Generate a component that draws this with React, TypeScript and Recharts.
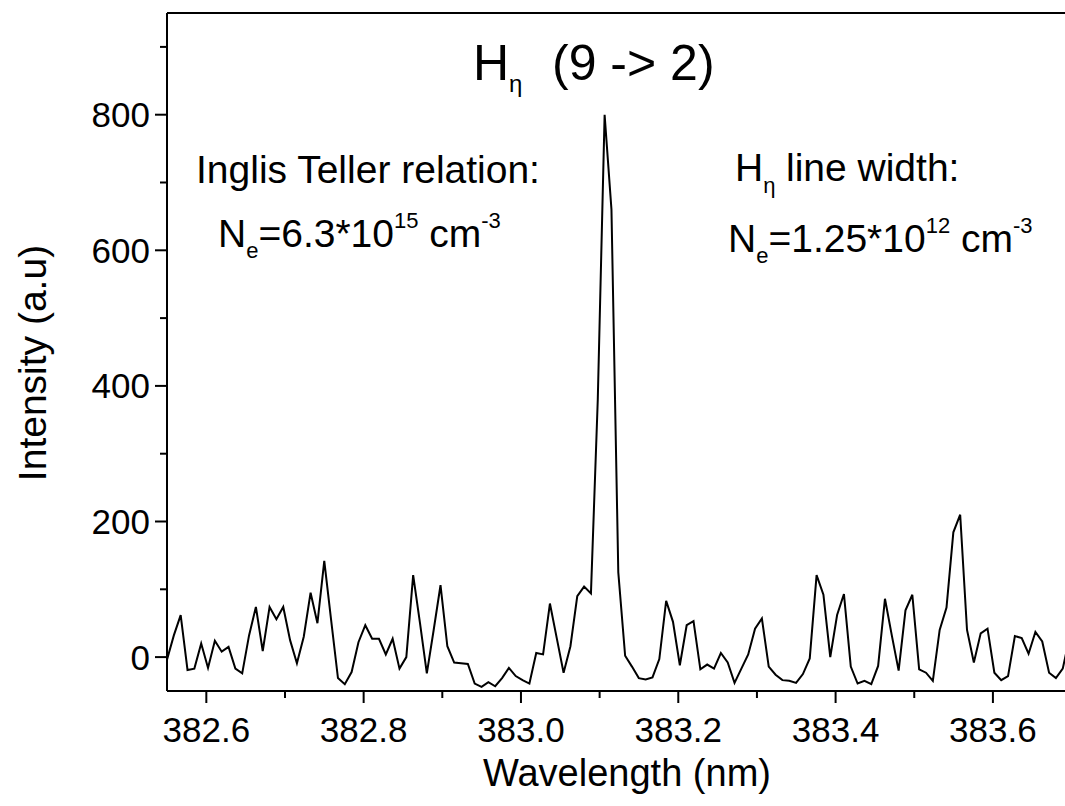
import { LineChart, Line, XAxis, YAxis, ReferenceLine } from 'recharts'

const FONT = "Arial, 'Liberation Sans', sans-serif"

// spectrometer channel grid (nm)
const WL_START = 382.55
const WL_STEP = 0.008693

// intensity per channel
const INTENSITY = [
    -4, 32, 62, -19, -17, 20, -16, 24, 8, 15,
    -17, -24, 32, 74, 9, 74, 56, 74, 25, -9,
    30, 95, 50, 142, 55, -31, -40, -22, 22, 47,
    27, 27, 4, 27, -17, 0, 121, 50, -24, 40,
    106, 16, -8, -9, -10, -39, -44, -37, -43, -31,
    -16, -28, -34, -39, 6, 4, 79, 28, -23, 16,
    90, 104, 94, 380, 800, 660, 125, 2, -14, -31,
    -33, -30, -3, 83, 52, -12, 47, 53, -18, -11,
    -17, 6, -8, -38, -17, 4, 42, 57, -14, -26,
    -34, -35, -38, -25, -2, 121, 92, 0, 62, 93,
    -14, -39, -35, -40, -13, 86, 32, -20, 69, 92,
    -18, -23, -35, 40, 73, 184, 210, 40, -8, 35,
    42, -23, -34, -28, 31, 28, 5, 37, 23, -23,
    -31, -17, 30,
]

const WAVELENGTHS = INTENSITY.map((_, i) => +(WL_START + i * WL_STEP).toFixed(5))

const X_MAJOR = [382.6, 382.8, 383.0, 383.2, 383.4, 383.6]
const X_MINOR = [382.7, 382.9, 383.1, 383.3, 383.5]
const Y_MAJOR = [0, 200, 400, 600, 800]
const Y_MINOR = [100, 300, 500, 700, 900]
const X_DOMAIN = [382.55, 383.698]
const Y_DOMAIN = [-50, 950]

const data = WAVELENGTHS.map((wl, i) => ({ wl, intensity: INTENSITY[i] }))

const X_TICKS = [...X_MAJOR, ...X_MINOR].sort((a, b) => a - b)
const Y_TICKS = [...Y_MAJOR, ...Y_MINOR].sort((a, b) => a - b)

const axisLine = { stroke: '#000', strokeWidth: 2 }
const MAJOR_LEN = 12
const MINOR_LEN = 7

function XTick({ x, y, payload }: any) {
    const major = X_MAJOR.some(v => Math.abs(v - payload.value) < 1e-6)
    return (
        <g>
            <line x1={x} x2={x} y1={y} y2={y + (major ? MAJOR_LEN : MINOR_LEN)} stroke="#000" strokeWidth={2} />
            {major && (
                <text x={x} y={y + MAJOR_LEN + 14} dy="0.71em" textAnchor="middle" fontSize={35} fontFamily={FONT} fill="#000">
                    {payload.value.toFixed(1)}
                </text>
            )}
        </g>
    )
}

function YTick({ x, y, payload }: any) {
    const major = Y_MAJOR.includes(payload.value)
    return (
        <g>
            <line x1={x - (major ? MAJOR_LEN : MINOR_LEN)} x2={x} y1={y} y2={y} stroke="#000" strokeWidth={2} />
            {major && (
                <text x={x - MAJOR_LEN - 5} y={y} dy="0.355em" textAnchor="end" fontSize={35} fontFamily={FONT} fill="#000">
                    {payload.value}
                </text>
            )}
        </g>
    )
}

export default function App() {
    return (
        <div style={{ position: 'absolute', left: 0, top: 0, width: 1065, height: 806, overflow: 'hidden', background: '#fff' }}>
            <LineChart
                width={1080}
                height={806}
                data={data}
                margin={{ top: 13, right: 10, left: 0, bottom: 0 }}
            >
                <XAxis
                    type="number"
                    dataKey="wl"
                    domain={X_DOMAIN}
                    ticks={X_TICKS}
                    interval={0}
                    height={115}
                    axisLine={axisLine}
                    tickLine={false}
                    tickSize={0}
                    tickMargin={0}
                    tick={<XTick />}
                    allowDataOverflow
                    label={() => (
                        <text x={627} y={786} textAnchor="middle" fontSize={38} fontFamily={FONT} fill="#000">
                            Wavelength (nm)
                        </text>
                    )}
                />
                <YAxis
                    type="number"
                    domain={Y_DOMAIN}
                    ticks={Y_TICKS}
                    interval={0}
                    width={167}
                    axisLine={axisLine}
                    tickLine={false}
                    tickSize={0}
                    tickMargin={0}
                    tick={<YTick />}
                    allowDataOverflow
                    label={() => (
                        <text
                            x={46}
                            y={363}
                            textAnchor="middle"
                            fontSize={39}
                            fontFamily={FONT}
                            fill="#000"
                            transform="rotate(-90 46 363)"
                        >
                            Intensity (a.u)
                        </text>
                    )}
                />
                <ReferenceLine y={950} stroke="#000" strokeWidth={2} />
                <Line
                    type="linear"
                    dataKey="intensity"
                    stroke="#000"
                    strokeWidth={2}
                    dot={false}
                    isAnimationActive={false}
                />
            </LineChart>
            <svg
                width={1065}
                height={806}
                style={{ position: 'absolute', left: 0, top: 0, pointerEvents: 'none' }}
                fontFamily={FONT}
                fill="#000"
            >
                <text x={473} y={80} fontSize={50}>
                    H<tspan fontSize={24} dy={12}>η</tspan>
                    <tspan fontSize={50} dy={-12} x={552}>(9 -&gt; 2)</tspan>
                </text>

                <text x={196} y={183} fontSize={39}>Inglis Teller relation:</text>
                <text x={218} y={247} fontSize={39}>
                    N<tspan fontSize={22} dy={11}>e</tspan>
                    <tspan dy={-11}>=6.3*10</tspan>
                    <tspan fontSize={22} dy={-19}>15</tspan>
                    <tspan dy={19}> cm</tspan>
                    <tspan fontSize={22} dy={-19}>-3</tspan>
                </text>

                <text x={735} y={181} fontSize={39}>
                    H<tspan fontSize={22} dy={12}>η</tspan>
                    <tspan dy={-12} x={786}>line width:</tspan>
                </text>
                <text x={728} y={252} fontSize={39}>
                    N<tspan fontSize={22} dy={11}>e</tspan>
                    <tspan dy={-11}>=1.25*10</tspan>
                    <tspan fontSize={22} dy={-19}>12</tspan>
                    <tspan dy={19}> cm</tspan>
                    <tspan fontSize={22} dy={-19}>-3</tspan>
                </text>
            </svg>
        </div>
    )
}
